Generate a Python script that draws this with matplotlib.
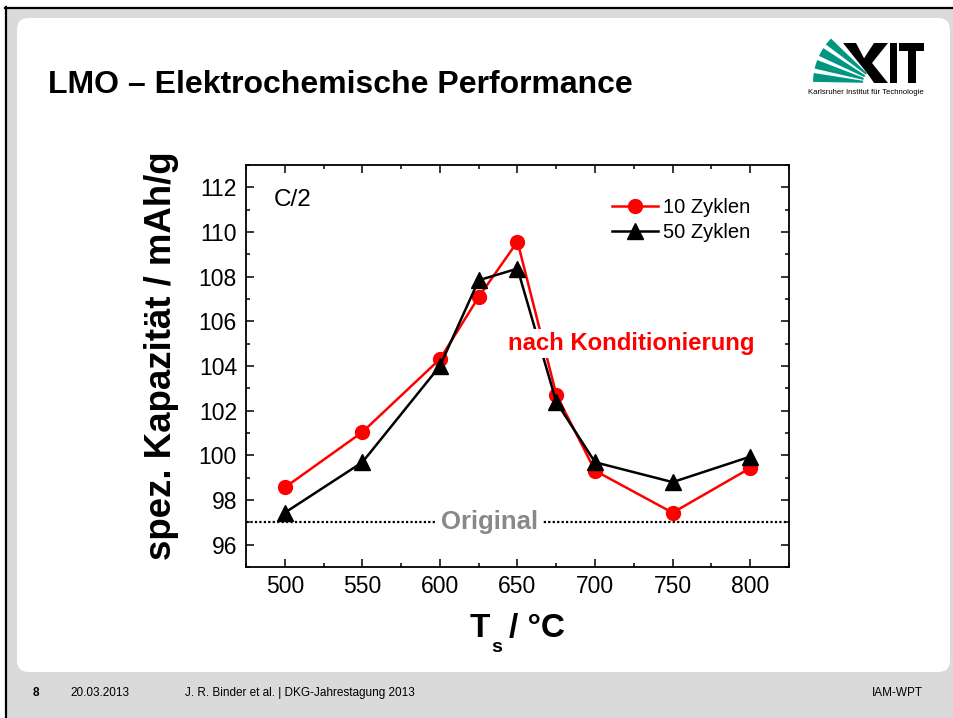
import matplotlib
matplotlib.use("Agg")
import matplotlib.pyplot as plt
from matplotlib.patches import Rectangle, FancyBboxPatch, Wedge, Polygon
from matplotlib.ticker import MultipleLocator

plt.rcParams["font.family"] = ["Liberation Sans", "DejaVu Sans"]

# ── data ──────────────────────────────────────────────────────────────────
temps = [500, 550, 600, 625, 650, 675, 700, 750, 800]
cap_10 = [98.56, 101.04, 104.31, 107.09, 109.57, 102.72, 99.31, 97.43, 99.43]
cap_50 = [97.43, 99.69, 104.0, 107.84, 108.36, 102.39, 99.69, 98.8, 99.94]
original_cap = 97.0
series_labels = ["10 Zyklen", "50 Zyklen"]

W, H = 954, 718
fig = plt.figure(figsize=(W / 100, H / 100), dpi=100)

# ── slide background (pixel coordinates, y from top) ─────────────────────
bg = fig.add_axes([0, 0, 1, 1], zorder=-1)
bg.set_xlim(0, W)
bg.set_ylim(H, 0)
bg.axis("off")
bg.add_patch(Rectangle((6, 8), W - 6, H - 8, facecolor="#DADADA", edgecolor="none"))
bg.add_patch(FancyBboxPatch((17, 18), 933, 654,
                            boxstyle="round,pad=0,rounding_size=12",
                            facecolor="white", edgecolor="none"))
bg.plot([5, W], [7.5, 7.5], color="black", lw=1.6)
bg.plot([6, 6], [7, H], color="black", lw=1.6)

bg.text(48, 93, "LMO \u2013 Elektrochemische Performance", fontsize=23,
        fontweight="bold", ha="left", va="baseline")

# KIT logo
ox, oy = 877, 83
for t1, t2 in [(-179, -171), (-167, -159), (-155, -147), (-143, -136)]:
    bg.add_patch(Wedge((ox, oy), 64, t1, t2, width=50, facecolor="#009682", edgecolor="none"))
bg.add_patch(Polygon([(843, 43), (856, 43), (ox, oy), (ox - 2, oy)], closed=True,
                     facecolor="black", edgecolor="none"))
bg.add_patch(Polygon([(874, 43), (888, 43), (872, 63), (888, 83), (874, 83), (861, 63)],
                     closed=True, facecolor="black", edgecolor="none"))
bg.add_patch(Rectangle((890, 43), 7, 40, facecolor="black", edgecolor="none"))
bg.add_patch(Rectangle((899, 43), 25, 8, facecolor="black", edgecolor="none"))
bg.add_patch(Rectangle((908, 43), 8, 40, facecolor="black", edgecolor="none"))
bg.text(808, 94, "Karlsruher Institut f\u00fcr Technologie", fontsize=5.6,
        ha="left", va="baseline")

# footer
foot = dict(fontsize=8.5, va="baseline")
bg.text(33, 696, "8", fontweight="bold", **foot)
bg.text(70, 696, "20.03.2013", **foot)
bg.text(185, 696, "J. R. Binder et al. | DKG-Jahrestagung 2013", **foot)
bg.text(923, 696, "IAM-WPT", ha="right", **foot)

# ── chart ────────────────────────────────────────────────────────────────
ax = fig.add_axes([246 / W, 1 - 567 / H, 543 / W, 402 / H])

ax.axhline(original_cap, color="black", lw=1.6, linestyle=(0, (1, 1)), zorder=1)
ax.plot(temps, cap_10, color="#FF0000", lw=1.8, marker="o", markersize=10,
        label=series_labels[0], zorder=3)
ax.plot(temps, cap_50, color="black", lw=1.8, marker="^", markersize=11,
        label=series_labels[1], zorder=4)

ax.set_xlim(475, 825)
ax.set_ylim(95, 113)
ax.set_xticks(range(500, 801, 50))
ax.set_yticks(range(96, 113, 2))
ax.xaxis.set_minor_locator(MultipleLocator(25))
ax.yaxis.set_minor_locator(MultipleLocator(1))
ax.tick_params(which="both", direction="in", top=True, right=True, width=1.1,
               labelsize=16.5)
ax.tick_params(which="major", length=6)
ax.tick_params(which="minor", length=3)
ax.tick_params(axis="y", pad=6.5)
ax.tick_params(axis="x", pad=6)
for s in ax.spines.values():
    s.set_linewidth(1.3)

ax.text(632, original_cap, "Original", fontsize=18.5, fontweight="bold", color="#888888",
        ha="center", va="center", zorder=5,
        bbox=dict(facecolor="white", edgecolor="none", pad=3))
ax.text(723, 104.72, "nach Konditionierung", fontsize=17.2, fontweight="bold",
        color="#FF0000", ha="center", va="baseline", zorder=5,
        bbox=dict(facecolor="white", edgecolor="none", pad=2))
ax.text(0.0516, 0.898, "C/2", transform=ax.transAxes, fontsize=17.5, va="baseline")

ax.legend(loc="upper left", bbox_to_anchor=(0.674, 0.918), frameon=False,
          fontsize=14.5, handlelength=2.3, handletextpad=0.25, labelspacing=0.28,
          borderpad=0, borderaxespad=0)

# axis labels
bg.text(162, 356, "spez. Kapazit\u00e4t / mAh/g", fontsize=26.4, fontweight="bold",
        rotation=90, ha="center", va="center")
bg.text(470, 637, "T", fontsize=24, fontweight="bold", va="baseline")
bg.text(491, 652, "s", fontsize=14, fontweight="bold", va="baseline")
bg.text(509, 637, "/ \u00b0C", fontsize=24, fontweight="bold", va="baseline")

fig.savefig("out.png", dpi=100)
